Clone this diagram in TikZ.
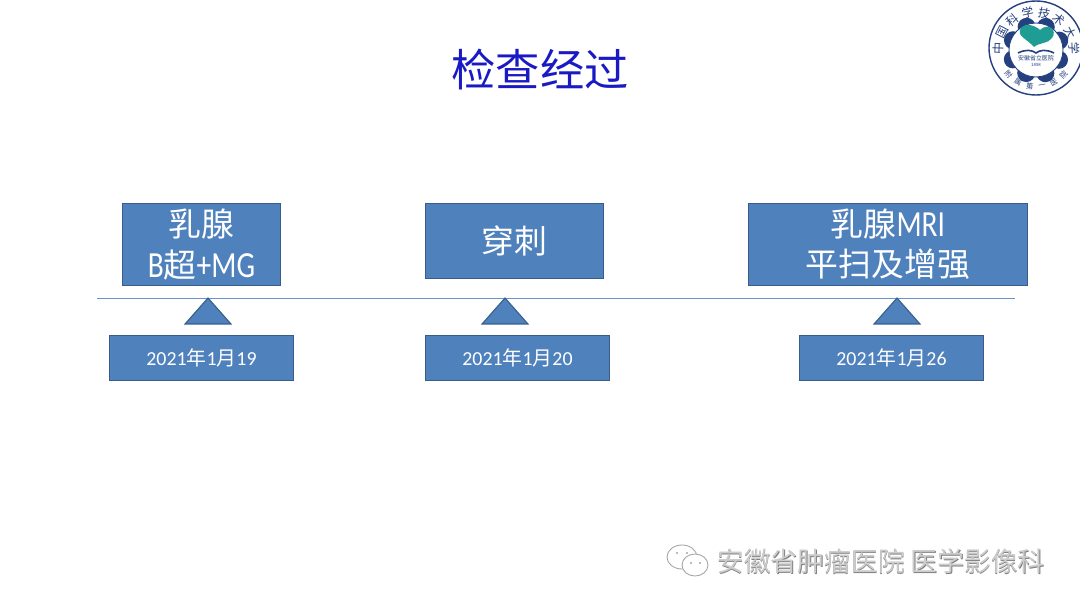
\documentclass[tikz,border=0pt]{standalone}
\usepackage{fontspec}
\setmainfont{Noto Sans CJK SC}
\newfontfamily\latinsmall{Carlito}
\newfontfamily\latinbig[Scale=1.12,FakeStretch=0.8]{Carlito}
\definecolor{boxfill}{HTML}{4F81BD}
\definecolor{boxline}{HTML}{385D8A}
\definecolor{titleblue}{HTML}{1A1AC4}
\definecolor{sealblue}{HTML}{24407F}
\definecolor{sealgreen}{HTML}{1F9C94}
\tikzset{
  mainbox/.style={draw=boxline, line width=0.9pt, fill=boxfill, text=white, align=center, inner sep=0pt, font=\fontsize{18.7}{22.8}\selectfont},
  datebox/.style={draw=boxline, line width=0.9pt, fill=boxfill, text=white, inner sep=0pt, minimum width=184*0.02cm, minimum height=45*0.02cm, font=\fontsize{11.3}{13}\selectfont},
  marker/.style={draw=boxline, line width=0.6pt, fill=boxfill},
  sealtext/.style={text=sealblue, inner sep=0pt, font=\fontsize{5}{5}\selectfont},
  marktext/.style={inner sep=0pt, font=\fontsize{15.25}{17}\selectfont},
}
\begin{document}
\begin{tikzpicture}[x=0.02cm, y=-0.02cm]
\useasboundingbox (0,0) rectangle (1080,608);

% ===== 标题 =====
\node[text=titleblue, inner sep=0pt, font=\fontsize{25.2}{28}\selectfont] (title) at (540,69) {检查经过};

% ===== 时间轴 =====
\coordinate (lineL) at (97,298);
\coordinate (lineR) at (1015,298);
\draw[boxfill!85!white, line width=0.5pt] (lineL) -- (lineR);

% ===== 上面的框 =====
\node[mainbox, minimum width=158*0.02cm, minimum height=82*0.02cm] (exam) at (201.5,244.5) {乳腺\\{\latinbig B}超{\latinbig +MG}};
\node[mainbox, minimum width=178*0.02cm, minimum height=75*0.02cm] (biopsy) at (514.5,241) {穿刺};
\node[mainbox, minimum width=279*0.02cm, minimum height=82*0.02cm] (mri) at (888,244.5) {乳腺{\latinbig MRI}\\平扫及增强};

% 三角形
\foreach \x in {208,505,897}
  \draw[marker] (\x,298) -- (\x+23,324) -- (\x-23,324) -- cycle;

% ===== 日期 =====
\node[datebox] (dateA) at (201.5,358) {{\latinsmall 2021}年{\latinsmall 1}月{\latinsmall 19}};
\node[datebox] (dateB) at (517.5,358) {{\latinsmall 2021}年{\latinsmall 1}月{\latinsmall 20}};
\node[datebox] (dateC) at (891.5,358) {{\latinsmall 2021}年{\latinsmall 1}月{\latinsmall 26}};

% ===== 校徽 =====
\begin{scope}
  \draw[sealblue, line width=0.8pt, fill=white] (1036,48) circle (47);
  \foreach \a in {0,45,...,315}
    \fill[sealblue] ({1036+25*cos(\a+22)},{50-25*sin(\a+22)}) circle (9);
  \draw[sealblue, line width=0.5pt, fill=white] (1036,50) circle (27);
  \fill[sealgreen] (1034,47) .. controls (1026,38) and (1016,36) .. (1021,28)
    .. controls (1026,22) and (1036,26) .. (1040,30)
    .. controls (1048,22) and (1058,30) .. (1052,38)
    .. controls (1048,44) and (1040,42) .. (1034,47) -- cycle;
  \draw[sealblue, line width=0.9pt] (1018,53) .. controls (1026,49) and (1032,50) .. (1036,53)
    .. controls (1040,50) and (1046,49) .. (1054,53);
  \foreach \c [count=\i] in {中,国,科,学,技,术,大,学} {
    \pgfmathsetmacro{\a}{178-(\i-1)*176/7}
    \node[sealtext, rotate=\a-90, font=\fontsize{6.8}{6.8}\selectfont] (top\i) at ({1036+38*cos(\a)},{50-38*sin(\a)}) {\c};
  }
  \foreach \c [count=\i] in {附,属,第,一,医,院} {
    \pgfmathsetmacro{\a}{222+(\i-1)*96/5}
    \node[sealtext, rotate=\a+90, font=\fontsize{4.2}{4.2}\selectfont] (bot\i) at ({1036+37*cos(\a)},{50-37*sin(\a)}) {\c};
  }
  \node[sealtext, font=\fontsize{3.4}{3.4}\selectfont] (sealname) at (1036,58) {安徽省立医院};
  \node[sealtext, font=\fontsize{2.5}{2.5}\selectfont] (sealyear) at (1036,65) {1898};
\end{scope}

% ===== 水印 =====
\begin{scope}
  \draw[black!35, line width=0.5pt, fill=white] (682,557) ellipse (15 and 12);
  \draw[black!35, line width=0.5pt, fill=white] (695,565) ellipse (13 and 11);
  \foreach \x/\y in {677/553,687/553,691/563,700/563}
    \fill[black!35] (\x,\y) circle (1.2);
  \node[marktext, text=black!50] (markshadow) at (881.5,562.1) {安徽省肿瘤医院 医学影像科};
  \node[marktext, text=black!20] (mark) at (881,561.6) {安徽省肿瘤医院 医学影像科};
\end{scope}

\end{tikzpicture}
\end{document}
